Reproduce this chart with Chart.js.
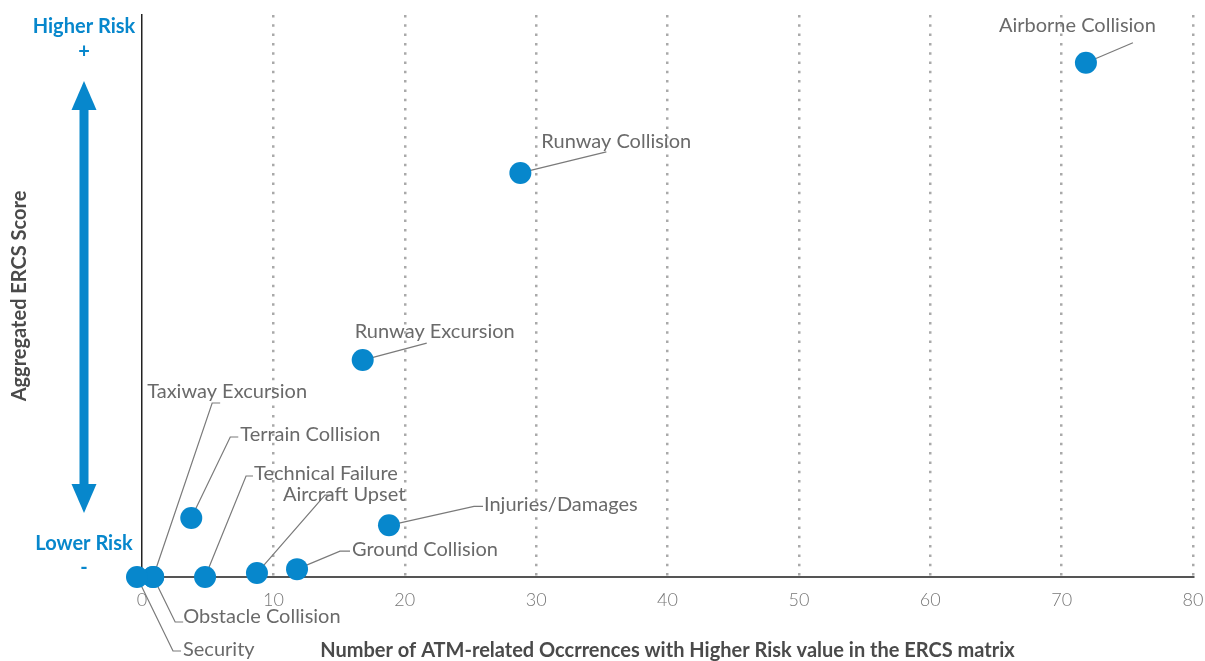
<!DOCTYPE html>
<html><head><meta charset="utf-8">
<script src="https://cdn.jsdelivr.net/npm/chart.js@4/dist/chart.umd.min.js"></script>
<style>html,body{margin:0;padding:0;background:#fff}#wrap{width:1205px;height:661px;position:relative}</style>
</head><body><div id="wrap"><canvas id="c"></canvas></div>
<script>
// ---- data ----
const categories = ['Airborne Collision','Runway Collision','Runway Excursion','Taxiway Excursion','Terrain Collision','Technical Failure','Aircraft Upset','Injuries/Damages','Ground Collision','Obstacle Collision','Security'];
const occurrences = [71.85, 28.8, 16.8, 0.85, 3.75, 4.8, 8.75, 18.8, 11.8, 0.85, -0.38];
const ercsScore = [91.5, 71.9, 38.6, 0.0, 10.5, 0.0, 0.7, 9.2, 1.4, 0.0, 0.0];
const xTickValues = [0,10,20,30,40,50,60,70,80];
const xTitle = 'Number of ATM-related Occrrences with Higher Risk value in the ERCS matrix';
const yTitle = 'Aggregated ERCS Score';
const highLabel = ['Higher Risk','+'];
const lowLabel = ['Lower Risk','-'];

const BLUE = '#0787cc';
const FONT = 'Lato, "Open Sans", sans-serif';

// leader-line layout (pixel offsets relative to each point)
const leaderLayout = [
  {t:[-87,-37], p:[[47,-20]]},
  {t:[21,-31],  p:[[86,-21]]},
  {t:[-8,-29],  p:[[64,-17]]},
  {t:[-6,-185], p:[[59,-174],[67,-174]]},
  {t:[49,-83],  p:[[39,-81],[47,-81]]},
  {t:[49,-103], p:[[41,-101],[48,-101]]},
  {t:[26,-79],  p:[[68,-78],[76,-78]]},
  {t:[95,-21],  p:[[85,-19],[94,-19]]},
  {t:[55,-20],  p:[[43,-18],[53,-18]]},
  {t:[30,40],   p:[[22,45],[30,45]]},
  {t:[46,73],   p:[[36,74],[44,74]]}
];

const leaderPlugin = {
  id: 'leaders',
  beforeDatasetsDraw(chart) {
    const meta = chart.getDatasetMeta(0);
    const ctx = chart.ctx;
    ctx.save();
    ctx.strokeStyle = '#7a7a7a';
    ctx.lineWidth = 1.2;
    meta.data.forEach((pt, i) => {
      const L = leaderLayout[i]; if (!L) return;
      ctx.beginPath();
      ctx.moveTo(pt.x, pt.y);
      L.p.forEach(([dx, dy]) => ctx.lineTo(pt.x + dx, pt.y + dy));
      ctx.stroke();
    });
    ctx.restore();
  },
  afterDatasetsDraw(chart) {
    const meta = chart.getDatasetMeta(0);
    const ctx = chart.ctx;
    ctx.save();
    ctx.fillStyle = '#6a6a6a';
    ctx.font = '20px ' + FONT;
    ctx.textAlign = 'left';
    ctx.textBaseline = 'middle';
    meta.data.forEach((pt, i) => {
      const L = leaderLayout[i]; if (!L) return;
      ctx.fillText(categories[i], pt.x + L.t[0], pt.y + L.t[1]);
    });
    ctx.restore();
  },
  afterDraw(chart) {
    const ctx = chart.ctx;
    const cx = 84;
    ctx.save();
    ctx.fillStyle = BLUE;
    ctx.textAlign = 'center';
    ctx.textBaseline = 'middle';
    ctx.font = 'bold 20px ' + FONT;
    ctx.fillText(highLabel[0], cx, 27);
    ctx.fillText(highLabel[1], cx, 52);
    ctx.fillText(lowLabel[0], cx, 544);
    ctx.fillText(lowLabel[1], cx, 568);
    // double-headed arrow
    ctx.fillRect(cx - 4.5, 108, 9, 378);
    ctx.beginPath();
    ctx.moveTo(cx, 81); ctx.lineTo(cx + 12.5, 110); ctx.lineTo(cx - 12.5, 110); ctx.closePath(); ctx.fill();
    ctx.beginPath();
    ctx.moveTo(cx, 513); ctx.lineTo(cx + 12.5, 484); ctx.lineTo(cx - 12.5, 484); ctx.closePath(); ctx.fill();
    ctx.restore();
  }
};

new Chart(document.getElementById('c'), {
  type: 'scatter',
  data: {
    datasets: [{
      data: occurrences.map((x, i) => ({x, y: ercsScore[i]})),
      backgroundColor: BLUE,
      borderWidth: 0,
      pointRadius: 11,
      pointHoverRadius: 11,
      clip: false
    }]
  },
  options: {
    responsive: true,
    maintainAspectRatio: false,
    animation: false,
    events: [],
    layout: { padding: { left: 0, right: 12, top: 15, bottom: 0 } },
    plugins: { legend: { display: false }, tooltip: { enabled: false } },
    scales: {
      x: {
        type: 'linear', min: 0, max: 80,
        afterBuildTicks: (s) => { s.ticks = xTickValues.map(v => ({value: v})); },
        afterFit: (s) => { s.height = 84; s.paddingLeft = 0; s.paddingRight = 0; },
        ticks: { color: '#777', font: { family: FONT, size: 18, weight: '300' }, padding: 12 },
        grid: { drawTicks: false, lineWidth: 2.5, color: (c) => c.tick && c.tick.value === 0 ? 'rgba(0,0,0,0)' : '#a9a9a9' },
        border: { color: '#555', width: 2, dash: [2.5, 6.8] },
        title: { display: true, text: xTitle, color: '#4a4a4a', font: { family: FONT, size: 20, weight: 'bold' }, padding: { top: 0, bottom: -2 } }
      },
      y: {
        type: 'linear', min: 0, max: 100,
        afterFit: (s) => { s.width = 142; s.paddingTop = 0; s.paddingBottom = 0; },
        ticks: { display: false },
        grid: { display: false },
        border: { color: '#222', width: 1.5 },
        title: { display: true, text: yTitle, color: '#4a4a4a', font: { family: FONT, size: 20, weight: 'bold' }, padding: { top: 8, bottom: 0 } }
      }
    }
  },
  plugins: [leaderPlugin]
});
</script>
</body></html>
